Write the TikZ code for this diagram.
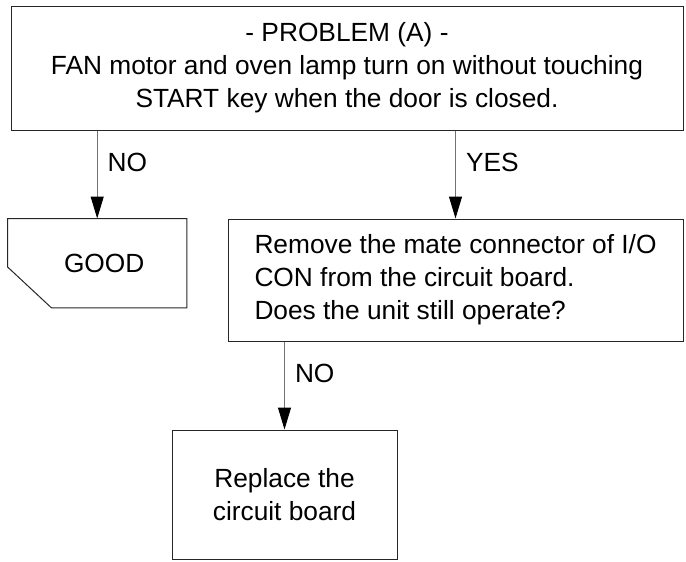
\documentclass[tikz,border=0pt]{standalone}
\usepackage{fontspec}
\setmainfont{Liberation Sans}
\usetikzlibrary{arrows.meta, positioning}

\begin{document}
\begin{tikzpicture}[
    x=1pt, y=-1pt,
    node distance=88pt,
    txt/.style={font=\fontsize{26.3}{33}\selectfont},
    box/.style={rectangle, draw=black!85, line width=1pt, align=center, txt},
    lbl/.style={inner sep=0pt, txt},
    arrow/.style={draw=black!55, line width=1pt,
        -{Triangle[length=22pt, width=13pt, color=black, fill=black]}}
]
\useasboundingbox (0,0) rectangle (686,562);

% Problem statement
\node[box, minimum width=672pt, minimum height=124pt] (problem) at (347,68)
    {- PROBLEM (A) -\\FAN motor and oven lamp turn on without touching\\START key when the door is closed.};

% Answer NO
\node[minimum width=179pt, minimum height=89pt, inner sep=0pt,
      below=of problem.south west, anchor=north west, xshift=-3pt] (good) {};
\draw[draw=black!85, line width=1pt] (good.north west) -- (good.north east) -- (good.south east)
    -- ([xshift=44pt]good.south west) -- ([yshift=41pt]good.south west) -- cycle;
\node[txt, xshift=7pt] at (good) {GOOD};

% Answer YES
\node[box, align=left, minimum width=455pt, minimum height=122pt,
      below=of problem.south east, anchor=north east] (check)
    {Remove the mate connector of I/O\\CON from the circuit board.\\Does the unit still operate?};

% Replace
\node[box, minimum width=225pt, minimum height=129pt,
      below=of check.south west, anchor=north west, xshift=-56pt] (replace)
    {Replace the\\circuit board};

% Arrows
\draw[arrow] (good.north |- problem.south) -- node[lbl, pos=0.36, right=10pt] {NO} (good.north);
\draw[arrow] (check.north |- problem.south) -- node[lbl, pos=0.36, right=10pt] {YES} (check.north);
\draw[arrow] (replace.north |- check.south) -- node[lbl, pos=0.36, right=10pt] {NO} (replace.north);

\end{tikzpicture}
\end{document}
